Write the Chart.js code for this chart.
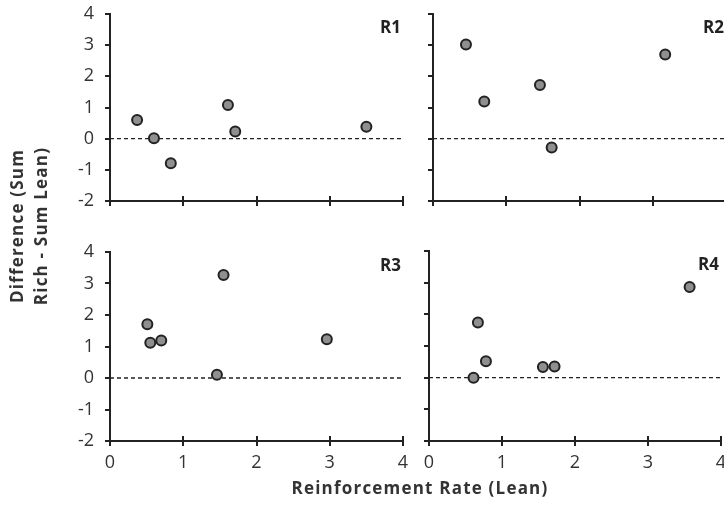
<!DOCTYPE html>
<html>
<head>
<meta charset="utf-8">
<script src="https://cdn.jsdelivr.net/npm/chart.js@4"></script>
<style>
  body { margin: 0; background: #fff; }
  #wrap { position: relative; width: 724px; height: 514px; overflow: hidden; background: #fff; }
  #wrap canvas { position: absolute; }
  .title { position: absolute; font-family: "Open Sans", sans-serif; font-weight: bold; font-size: 17px; letter-spacing: 1.2px; color: #333; text-align: center; line-height: 24px; white-space: nowrap; }
</style>
</head>
<body>
<div id="wrap">
  <canvas id="c1"></canvas>
  <canvas id="c2"></canvas>
  <canvas id="c3"></canvas>
  <canvas id="c4"></canvas>
  <div class="title" style="left:-120px; top:201px; width:300px; height:50px; transform:rotate(-90deg);">Difference (Sum<br>Rich - Sum Lean)</div>
  <div class="title" style="left:220px; top:476px; width:400px;">Reinforcement Rate (Lean)</div>
</div>
<script>
// data
const r1X = [0.37, 0.60, 0.83, 1.61, 1.71, 3.50];
const r1Y = [0.60, 0.01, -0.79, 1.08, 0.23, 0.38];
const r2X = [0.45, 0.70, 1.46, 1.62, 3.17];
const r2Y = [3.02, 1.19, 1.72, -0.28, 2.70];
const r3X = [0.51, 0.55, 0.70, 1.55, 1.46, 2.96];
const r3Y = [1.71, 1.12, 1.19, 3.27, 0.10, 1.23];
const r4X = [0.67, 0.78, 0.61, 1.56, 1.72, 3.57];
const r4Y = [1.74, 0.52, 0.00, 0.34, 0.35, 2.86];
const zeroX = [0, 4];
const zeroY = [0, 0];
const xTicks = [0, 1, 2, 3, 4];
const yTicks = [-2, -1, 0, 1, 2, 3, 4];

const INK = "#222";
const FONT = "'Open Sans', sans-serif";

// x ticks cross the axis, chart.js only draws the outer half
const innerTicks = {
  id: "innerTicks",
  afterDraw(chart) {
    const ctx = chart.ctx, xs = chart.scales.x, b = chart.chartArea.bottom;
    ctx.save();
    ctx.strokeStyle = INK;
    ctx.lineWidth = 2;
    xTicks.forEach(v => {
      const px = Math.round(xs.getPixelForValue(v));
      ctx.beginPath();
      ctx.moveTo(px, b - 5);
      ctx.lineTo(px, b);
      ctx.stroke();
    });
    const lab = chart.options.plugins.panelLabel.text;
    ctx.fillStyle = INK;
    ctx.font = "bold 17px " + FONT;
    ctx.textAlign = "right";
    ctx.textBaseline = "middle";
    ctx.fillText(lab, chart.chartArea.right - 2, chart.chartArea.top + 14);
    ctx.restore();
  }
};

function toPts(xs, ys) {
  return xs.map((x, i) => ({ x: x, y: ys[i] }));
}

function panel(id, box, xs, ys, label, showX, showY) {
  const yW = 60, padT = 24, padR = 20;
  const xH = showX ? 45 : 24;
  const cv = document.getElementById(id);
  cv.width = yW + box.w + padR;
  cv.height = padT + box.h + xH;
  cv.style.left = (box.left - yW) + "px";
  cv.style.top = (box.top - padT) + "px";

  new Chart(cv, {
    type: "scatter",
    data: {
      datasets: [
        {
          data: toPts(xs, ys),
          pointRadius: 5,
          pointBorderWidth: 2,
          pointBackgroundColor: "#8f8f8f",
          pointBorderColor: INK,
          clip: false,
          order: 0
        },
        {
          type: "line",
          data: toPts(zeroX, zeroY),
          borderColor: INK,
          borderWidth: 1.3,
          borderDash: [4, 3],
          pointRadius: 0,
          order: 1
        }
      ]
    },
    options: {
      responsive: false,
      animation: false,
      events: [],
      layout: { padding: { top: padT, right: padR, left: 0, bottom: 0 } },
      plugins: { legend: { display: false }, tooltip: { enabled: false }, panelLabel: { text: label } },
      scales: {
        x: {
          type: "linear", min: 0, max: 4,
          afterBuildTicks: s => { s.ticks = xTicks.map(v => ({ value: v })); },
          afterFit: s => { s.height = xH; },
          border: { display: true, color: INK, width: 2 },
          grid: { drawOnChartArea: false, drawTicks: true, tickLength: 5, color: INK, lineWidth: 2 },
          ticks: { display: showX, color: "#333", font: { family: FONT, size: 18 }, padding: 6, maxRotation: 0 }
        },
        y: {
          type: "linear", min: -2, max: 4,
          afterBuildTicks: s => { s.ticks = yTicks.map(v => ({ value: v })); },
          afterFit: s => { s.width = yW; },
          border: { display: true, color: INK, width: 2 },
          grid: { drawOnChartArea: false, drawTicks: true, tickLength: 5, color: INK, lineWidth: 2 },
          ticks: { display: showY, color: "#333", font: { family: FONT, size: 18 }, padding: 11 }
        }
      }
    },
    plugins: [innerTicks]
  });
}

panel("c1", { left: 110, top: 14, w: 293, h: 187 }, r1X, r1Y, "R1", false, true);
panel("c2", { left: 433, top: 14, w: 293, h: 187 }, r2X, r2Y, "R2", false, false);
panel("c3", { left: 110, top: 252, w: 293, h: 189 }, r3X, r3Y, "R3", true, true);
panel("c4", { left: 429, top: 251, w: 292, h: 190 }, r4X, r4Y, "R4", true, false);
</script>
</body>
</html>
